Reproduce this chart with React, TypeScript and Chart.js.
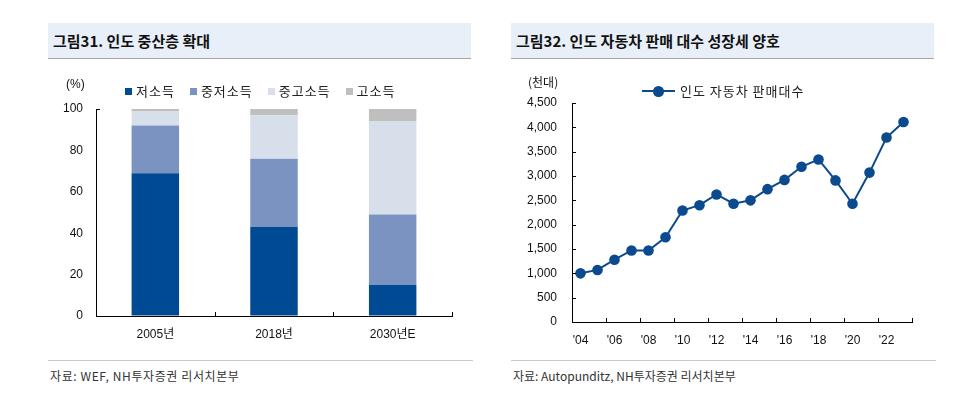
import React, { useEffect, useRef } from "react";
import { Chart, registerables } from "chart.js";

Chart.register(...registerables);

// ---------- Data: 그림31 ----------
const incomeCategories = ["2005년", "2018년", "2030년E"];
const incomeSeriesNames = ["저소득", "중저소득", "중고소득", "고소득"];
const lowIncome = [69, 43, 15];
const lowerMiddleIncome = [23, 33, 34];
const upperMiddleIncome = [7, 21, 45];
const highIncome = [1, 3, 6];
const incomeColors = ["#004A93", "#7B93C1", "#D7DFEA", "#BFBFBF"];
const percentAxis = { min: 0, max: 100, step: 20 };

// ---------- Data: 그림32 ----------
const salesYears = [
  2004, 2005, 2006, 2007, 2008, 2009, 2010, 2011, 2012, 2013,
  2014, 2015, 2016, 2017, 2018, 2019, 2020, 2021, 2022, 2023,
];
const salesValues = [
  1000, 1070, 1280, 1470, 1470, 1740, 2290, 2400, 2620, 2430,
  2500, 2730, 2920, 3190, 3340, 2910, 2430, 3070, 3790, 4110,
];
const salesSeriesName = "인도 자동차 판매대수";
const salesColor = "#0B4A8E";
const salesAxis = { min: 0, max: 4500, step: 500 };

const LATIN = '"Liberation Sans", Arial, "Noto Sans CJK KR", sans-serif';
const KOREAN = '"Noto Sans CJK KR", "Liberation Sans", sans-serif';

const insideTicksPlugin = {
  id: "insideTicks",
  afterDraw(chart: any, _args: any, opts: any) {
    const { ctx, chartArea, scales } = chart;
    const x = scales.x;
    const y = scales.y;
    const len = 4;
    ctx.save();
    ctx.strokeStyle = "#000";
    ctx.lineWidth = 1;
    ctx.beginPath();
    const yVals: number[] =
      opts.yMode === "top" ? [y.max] : y.ticks.map((t: any) => t.value);
    yVals.forEach((v) => {
      if (v === y.min) return;
      const py = Math.round(y.getPixelForValue(v)) + 0.5;
      ctx.moveTo(chartArea.left, py);
      ctx.lineTo(chartArea.left + len, py);
    });
    const n = x.getLabels().length;
    const step = x.getPixelForValue(1) - x.getPixelForValue(0);
    const first = x.getPixelForValue(0) - step / 2;
    const every = opts.xEvery || 1;
    for (let i = every; i <= n; i += every) {
      const px = Math.round(first + i * step) + 0.5;
      ctx.moveTo(px, chartArea.bottom);
      ctx.lineTo(px, chartArea.bottom - len);
    }
    ctx.stroke();
    ctx.restore();
  },
};

function useChart(build: () => any) {
  const ref = useRef<HTMLCanvasElement | null>(null);
  useEffect(() => {
    if (!ref.current) return;
    const chart = new Chart(ref.current, build());
    return () => chart.destroy();
  }, []);
  return ref;
}

function IncomeChart() {
  const ref = useChart(() => ({
    type: "bar",
    data: {
      labels: incomeCategories,
      datasets: [lowIncome, lowerMiddleIncome, upperMiddleIncome, highIncome].map(
        (d, i) => ({
          label: incomeSeriesNames[i],
          data: d,
          backgroundColor: incomeColors[i],
          borderWidth: 0,
          categoryPercentage: 1,
          barPercentage: 0.4,
        })
      ),
    },
    options: {
      responsive: false,
      animation: false,
      layout: { padding: { top: 49, right: 18, left: 0, bottom: 0 } },
      plugins: {
        legend: { display: false },
        tooltip: { enabled: false },
        insideTicks: { yMode: "top", xEvery: 1 },
      },
      scales: {
        x: {
          stacked: true,
          grid: { display: true, drawOnChartArea: false, drawTicks: false },
          border: { display: true, color: "#000", width: 1 },
          ticks: { color: "#111", padding: 11, font: { family: LATIN, size: 12 } },
          afterFit: (s: any) => { s.height = 39; },
        },
        y: {
          stacked: true,
          min: percentAxis.min,
          max: percentAxis.max,
          grid: { display: true, drawOnChartArea: false, drawTicks: false },
          border: { display: true, color: "#000", width: 1 },
          ticks: {
            stepSize: percentAxis.step,
            color: "#111",
            padding: 13,
            font: { family: LATIN, size: 12 },
          },
          afterFit: (s: any) => { s.width = 48; },
        },
      },
    },
    plugins: [insideTicksPlugin],
  }));
  return <canvas ref={ref} width={422} height={295} style={{ width: 422, height: 295, display: "block" }} />;
}

function SalesChart() {
  const ref = useChart(() => ({
    type: "line",
    data: {
      labels: salesYears.map((y) => "'" + String(y).slice(2)),
      datasets: [
        {
          label: salesSeriesName,
          data: salesValues,
          borderColor: salesColor,
          backgroundColor: salesColor,
          borderWidth: 2,
          pointRadius: 5.3,
          pointBorderWidth: 0,
          pointBackgroundColor: salesColor,
          tension: 0,
        },
      ],
    },
    options: {
      responsive: false,
      animation: false,
      layout: { padding: { top: 43, right: 22, left: 0, bottom: 0 } },
      plugins: {
        legend: { display: false },
        tooltip: { enabled: false },
        insideTicks: { yMode: "all", xEvery: 2 },
      },
      scales: {
        x: {
          offset: true,
          grid: { display: true, drawOnChartArea: false, drawTicks: false, offset: true },
          border: { display: true, color: "#000", width: 1 },
          ticks: {
            autoSkip: false,
            maxRotation: 0,
            color: "#111",
            padding: 11,
            font: { family: LATIN, size: 12 },
            callback: function (this: any, _v: any, i: number) {
              return i % 2 === 0 ? this.getLabelForValue(i) : "";
            },
          },
          afterFit: (s: any) => { s.height = 33; },
        },
        y: {
          min: salesAxis.min,
          max: salesAxis.max,
          grid: { display: true, drawOnChartArea: false, drawTicks: false },
          border: { display: true, color: "#000", width: 1 },
          ticks: {
            stepSize: salesAxis.step,
            color: "#111",
            padding: 15,
            font: { family: LATIN, size: 12 },
            callback: (v: any) => Number(v).toLocaleString("en-US"),
          },
          afterFit: (s: any) => { s.width = 61; },
        },
      },
    },
    plugins: [insideTicksPlugin],
  }));
  return <canvas ref={ref} width={423} height={295} style={{ width: 423, height: 295, display: "block" }} />;
}

const headerStyle = (left: number, width: number): React.CSSProperties => ({
  position: "absolute",
  left,
  top: 23,
  width,
  height: 36,
  background: "#E9EFF8",
  borderBottom: "1px solid #A6A6A6",
  boxSizing: "border-box",
  fontFamily: KOREAN,
  fontWeight: 700,
  fontSize: 15,
  color: "#111",
  lineHeight: "35px",
  paddingLeft: 5,
  whiteSpace: "nowrap",
});

const sourceStyle = (left: number, width: number, spacing: number): React.CSSProperties => ({
  position: "absolute",
  left,
  top: 360,
  width,
  borderTop: "1px solid #C8C8C8",
  fontFamily: KOREAN,
  fontSize: 12,
  color: "#333",
  paddingTop: 7,
  paddingLeft: 2,
  lineHeight: "16px",
  letterSpacing: spacing,
  whiteSpace: "nowrap",
});

export default function App() {
  return (
    <div style={{ position: "fixed", left: 0, top: 0, width: 966, height: 413, background: "#fff", overflow: "hidden" }}>
      {/* Left panel */}
      <div style={headerStyle(48, 423)}>그림31. 인도 중산층 확대</div>
      <div style={{ position: "absolute", left: 48, top: 60 }}>
        <IncomeChart />
      </div>
      <div style={{ position: "absolute", left: 66, top: 77, fontFamily: LATIN, fontSize: 12, color: "#111" }}>(%)</div>
      <div style={{ position: "absolute", left: 125, top: 82, display: "flex", alignItems: "center", fontFamily: KOREAN, fontSize: 13, color: "#222", lineHeight: "18px", letterSpacing: 1 }}>
        {incomeSeriesNames.map((n, i) => (
          <div key={n} style={{ display: "flex", alignItems: "center", marginRight: 15 }}>
            <span style={{ width: 7, height: 7, background: incomeColors[i], marginRight: 4, display: "inline-block" }} />
            <span>{n}</span>
          </div>
        ))}
      </div>
      <div style={sourceStyle(48, 423, 0.6)}>자료: WEF, NH투자증권 리서치본부</div>

      {/* Right panel */}
      <div style={headerStyle(511, 423)}>그림32. 인도 자동차 판매 대수 성장세 양호</div>
      <div style={{ position: "absolute", left: 511, top: 60 }}>
        <SalesChart />
      </div>
      <div style={{ position: "absolute", left: 528, top: 73, fontFamily: KOREAN, fontSize: 12, color: "#111" }}>(천대)</div>
      <div style={{ position: "absolute", left: 642, top: 82, display: "flex", alignItems: "center", fontFamily: KOREAN, fontSize: 13, color: "#222", lineHeight: "18px", letterSpacing: 1 }}>
        <span style={{ position: "relative", width: 33, height: 10, marginRight: 5, display: "inline-block" }}>
          <span style={{ position: "absolute", left: 0, top: 4, width: 33, height: 2, background: salesColor }} />
          <span style={{ position: "absolute", left: 11, top: 0, width: 10.6, height: 10.6, borderRadius: "50%", background: salesColor }} />
        </span>
        <span>{salesSeriesName}</span>
      </div>
      <div style={sourceStyle(511, 423, 0)}>자료: Autopunditz, NH투자증권 리서치본부</div>
    </div>
  );
}
